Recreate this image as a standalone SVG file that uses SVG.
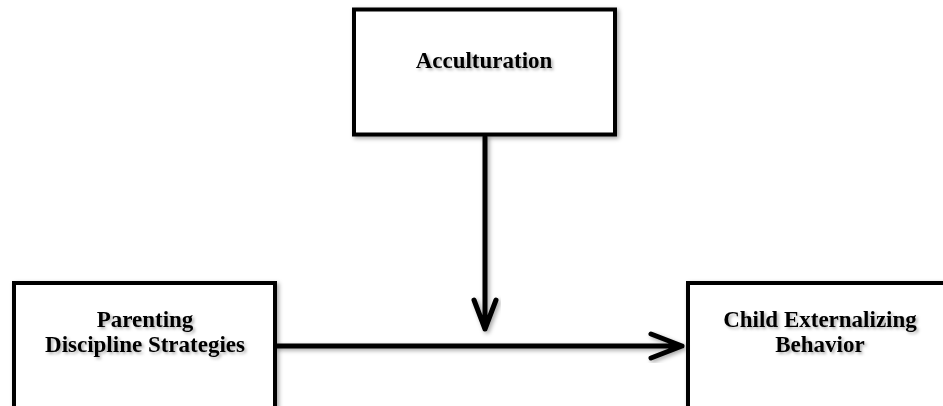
<svg xmlns="http://www.w3.org/2000/svg" width="943" height="406" viewBox="0 0 943 406">
<defs>
<filter id="sh" x="-10%" y="-10%" width="130%" height="130%">
<feDropShadow dx="2" dy="2" stdDeviation="2" flood-color="#000" flood-opacity="0.35"/>
</filter>
<filter id="tsh" x="-10%" y="-30%" width="130%" height="170%">
<feDropShadow dx="2" dy="2" stdDeviation="1.5" flood-color="#000" flood-opacity="0.3"/>
</filter>
</defs>
<style>
.box{fill:#fff;stroke:#000;stroke-width:4;filter:url(#sh)}
.lbl{font-family:"Liberation Serif","Times New Roman",serif;font-weight:bold;font-size:23px;fill:#000;text-anchor:middle;filter:url(#tsh)}
.con{fill:none;stroke:#000;stroke-width:5;stroke-linecap:round;stroke-linejoin:round;filter:url(#sh)}
</style>
<rect width="943" height="406" fill="#fff"/>
<g id="acculturation">
<rect class="box" x="354" y="9.5" width="261" height="125"/>
<text class="lbl" x="484" y="68">Acculturation</text>
</g>
<g id="parenting">
<rect class="box" x="14" y="283" width="261" height="140"/>
<text class="lbl" x="145" y="327">Parenting</text>
<text class="lbl" x="145" y="352">Discipline Strategies</text>
</g>
<g id="child">
<rect class="box" x="688" y="283" width="270" height="140"/>
<text class="lbl" x="820" y="327">Child Externalizing</text>
<text class="lbl" x="820" y="352">Behavior</text>
</g>
<g id="connectors">
<path class="con" d="M485 137 V329 M474 300 L485 329 L496 300"/>
<path class="con" d="M277 346 H682 M651 334 L682 346 L651 358"/>
</g>
</svg>
